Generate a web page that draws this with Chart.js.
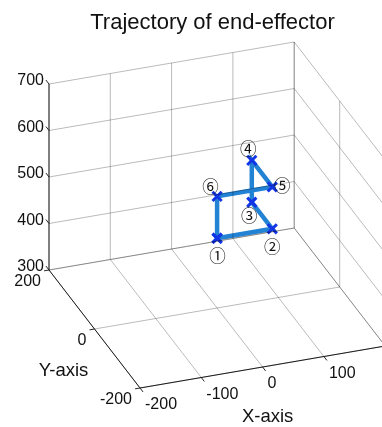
<!DOCTYPE html>
<html>
<head>
<meta charset="utf-8">
<title>Trajectory of end-effector</title>
<script src="https://cdn.jsdelivr.net/npm/chart.js@4.4.1/dist/chart.umd.min.js"></script>
<style>
  html, body { margin: 0; padding: 0; background: #fff; }
  #wrap { width: 382px; height: 427px; }
</style>
</head>
<body>
<div id="wrap"><canvas id="traj" width="382" height="427"></canvas></div>
<script>
// ===== data =====
const xTicks = [-200, -100, 0, 100, 200];
const yTicks = [-200, 0, 200];
const zTicks = [300, 400, 500, 600, 700];
const xTickLabels = ['-200', '-100', '0', '100', '200'];
const yTickLabels = ['-200', '0', '200'];
const zTickLabels = ['300', '400', '500', '600', '700'];

// end-effector waypoints (mm), visited in order and closed back to the first
const pointNames = ['①', '②', '③', '④', '⑤', '⑥'];
const trajX = [0, 90, 90, 90, 90, 0];
const trajY = [0, 0, 90, 90, 0, 0];
const trajZ = [450, 450, 450, 540, 540, 540];

// ===== view (orthographic, pixels per data unit from the x-min / y-max / z-min corner) =====
const xLim = [-200, 200], yLim = [-200, 200], zLim = [300, 700];
const view = {
    origin: [49, 270],
    ex: [0.613, -0.105],
    ey: [-0.2275, -0.295],
    ez: [0, -0.465]
};

function project(x, y, z) {
    const dx = x - xLim[0], dy = y - yLim[1], dz = z - zLim[0];
    return {
        x: view.origin[0] + dx * view.ex[0] + dy * view.ey[0] + dz * view.ez[0],
        y: view.origin[1] + dx * view.ex[1] + dy * view.ey[1] + dz * view.ez[1]
    };
}

const colors = {
    grid: 'rgba(0, 0, 0, 0.27)',
    axis: '#262626',
    path: '#2282d4',
    marker: '#1236e6',
    text: '#111'
};

const datasets = [];

function segment(a, b, color, width) {
    datasets.push({
        data: [project(...a), project(...b)],
        showLine: true,
        borderColor: color,
        borderWidth: width,
        pointRadius: 0,
        pointHoverRadius: 0
    });
}

// ===== grid on back wall (y = ymax), side wall (x = xmax) and floor (z = zmin) =====
xTicks.forEach(x => {
    segment([x, yLim[1], zLim[0]], [x, yLim[1], zLim[1]], colors.grid, 1);
    segment([x, yLim[0], zLim[0]], [x, yLim[1], zLim[0]], colors.grid, 1);
});
yTicks.forEach(y => {
    segment([xLim[1], y, zLim[0]], [xLim[1], y, zLim[1]], colors.grid, 1);
    segment([xLim[0], y, zLim[0]], [xLim[1], y, zLim[0]], colors.grid, 1);
});
zTicks.forEach(z => {
    segment([xLim[0], yLim[1], z], [xLim[1], yLim[1], z], colors.grid, 1);
    segment([xLim[1], yLim[0], z], [xLim[1], yLim[1], z], colors.grid, 1);
});

// ===== axis lines =====
segment([xLim[0], yLim[0], zLim[0]], [xLim[1], yLim[0], zLim[0]], colors.axis, 1);
segment([xLim[0], yLim[0], zLim[0]], [xLim[0], yLim[1], zLim[0]], colors.axis, 1);
segment([xLim[0], yLim[1], zLim[0]], [xLim[0], yLim[1], zLim[1]], colors.axis, 1);

// small tick marks pointing out of the box
const tickLen = 5;
function unit(v) {
    const n = Math.hypot(v[0], v[1]);
    return [v[0] / n, v[1] / n];
}
const xTickDir = unit([-view.ey[0], -view.ey[1]]);
const yTickDir = unit([-view.ex[0], -view.ex[1]]);
const zTickDir = unit([view.ey[0], view.ey[1]]);

function tickMark(p, dir) {
    datasets.push({
        data: [p, { x: p.x + dir[0] * tickLen, y: p.y + dir[1] * tickLen }],
        showLine: true,
        borderColor: colors.axis,
        borderWidth: 1,
        pointRadius: 0
    });
}
xTicks.forEach(x => tickMark(project(x, yLim[0], zLim[0]), xTickDir));
yTicks.forEach(y => tickMark(project(xLim[0], y, zLim[0]), yTickDir));
zTicks.forEach(z => tickMark(project(xLim[0], yLim[1], z), zTickDir));

// ===== trajectory =====
const pathPoints = trajX.map((x, i) => project(x, trajY[i], trajZ[i]));
datasets.push({
    data: [...pathPoints, pathPoints[0]],
    showLine: true,
    borderColor: colors.path,
    borderWidth: 4.5,
    pointStyle: 'crossRot',
    pointRadius: 6.5,
    pointBorderColor: colors.marker,
    pointBorderWidth: 3,
    pointBackgroundColor: colors.marker
});

// label offsets for the waypoint numbers (px)
const nameOffsets = [[0.5, 17.5], [0, 17.5], [-2.5, 13.5], [-3.5, -11.5], [10, -1.5], [-6.5, -10]];

const labelPlugin = {
    id: 'labels3d',
    afterDatasetsDraw(chart) {
        const ctx = chart.ctx;
        ctx.save();
        ctx.fillStyle = colors.text;

        // title
        ctx.font = '22px "Liberation Sans", Arial, sans-serif';
        ctx.textAlign = 'center';
        ctx.textBaseline = 'alphabetic';
        ctx.fillText('Trajectory of end-effector', 212.5, 29);

        // tick labels
        ctx.font = '16px "Liberation Sans", Arial, sans-serif';
        ctx.textBaseline = 'middle';
        ctx.textAlign = 'right';
        zTicks.forEach((z, i) => {
            const p = project(xLim[0], yLim[1], z);
            ctx.fillText(zTickLabels[i], p.x - 5, p.y - 3);
        });
        yTicks.forEach((y, i) => {
            const p = project(xLim[0], y, zLim[0]);
            ctx.fillText(yTickLabels[i], p.x - 8, p.y + 12);
        });
        ctx.textAlign = 'left';
        xTicks.forEach((x, i) => {
            const p = project(x, yLim[0], zLim[0]);
            ctx.fillText(xTickLabels[i], p.x + 5, p.y + 17);
        });

        // axis names
        ctx.font = '18.5px "Liberation Sans", Arial, sans-serif';
        ctx.textAlign = 'center';
        const ym = project(xLim[0], 0, zLim[0]);
        ctx.fillText('Y-axis', ym.x - 31, ym.y + 42);
        const xm = project(0, yLim[0], zLim[0]);
        ctx.fillText('X-axis', xm.x + 5, xm.y + 50);

        // waypoint numbers
        ctx.font = '16.5px "Noto Sans CJK SC", "DejaVu Sans", sans-serif';
        pointNames.forEach((name, i) => {
            const p = pathPoints[i];
            ctx.fillText(name, p.x + nameOffsets[i][0], p.y + nameOffsets[i][1]);
        });
        ctx.restore();
    }
};

new Chart(document.getElementById('traj'), {
    type: 'scatter',
    data: { datasets: datasets },
    options: {
        responsive: false,
        animation: false,
        events: [],
        layout: { padding: 0, autoPadding: false },
        plugins: {
            legend: { display: false },
            tooltip: { enabled: false },
            title: { display: false }
        },
        scales: {
            x: { type: 'linear', min: 0, max: 382, display: false },
            y: { type: 'linear', min: 0, max: 427, reverse: true, display: false }
        }
    },
    plugins: [labelPlugin]
});
</script>
</body>
</html>
